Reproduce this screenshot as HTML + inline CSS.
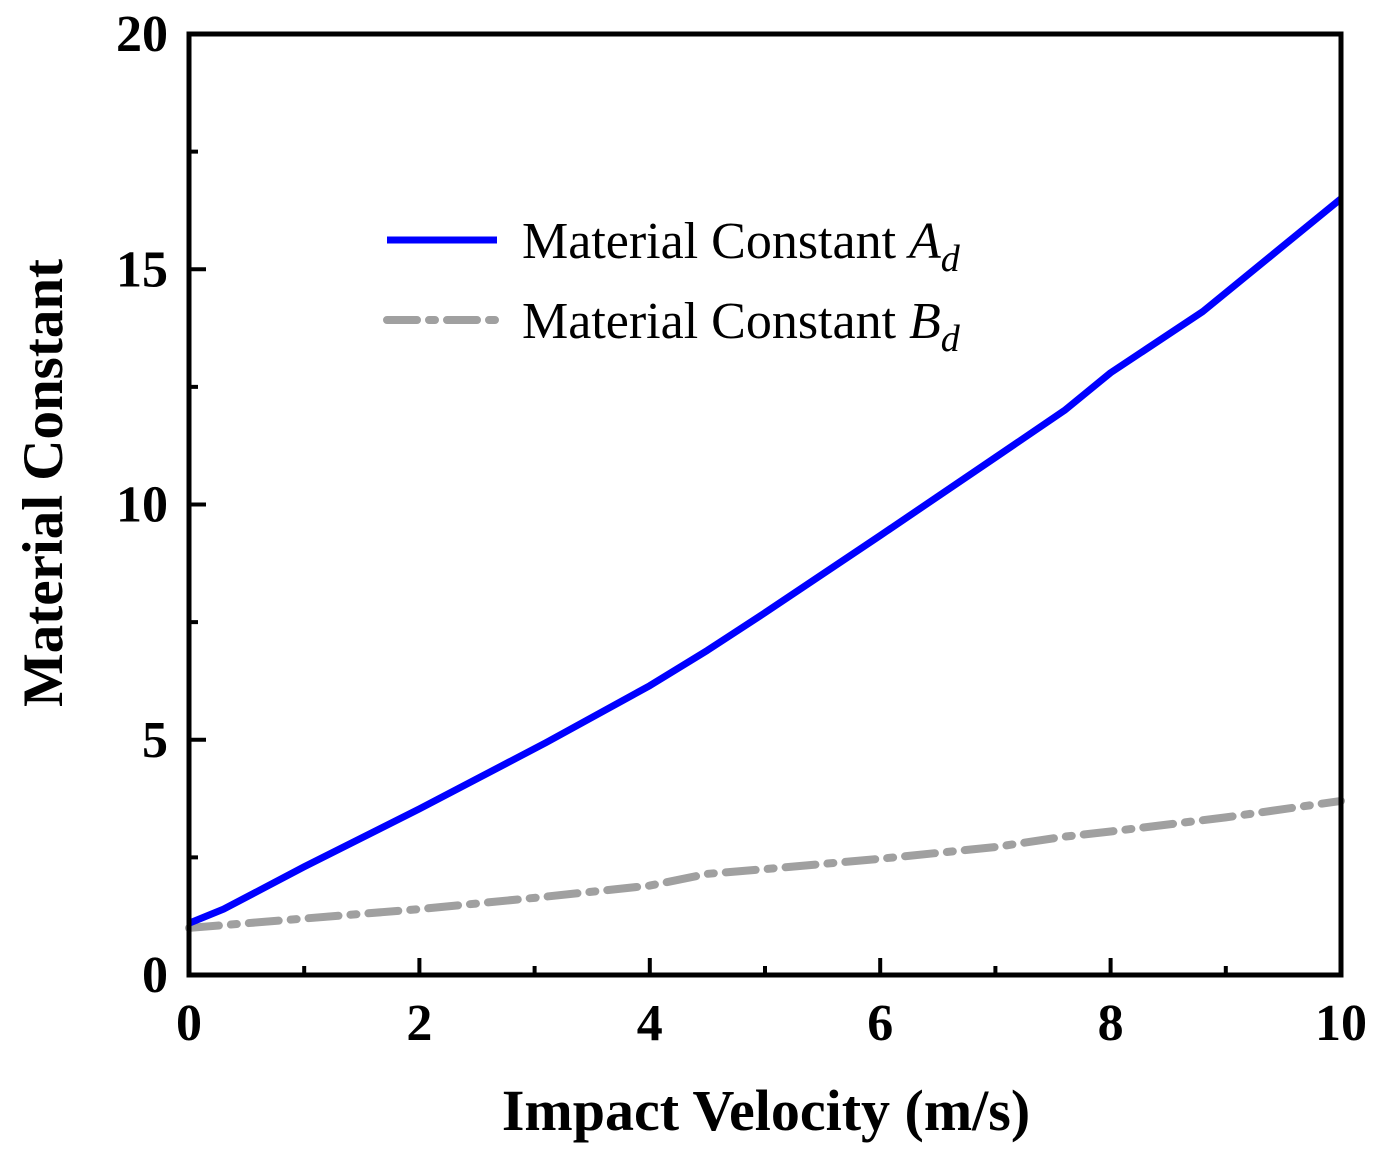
<!DOCTYPE html>
<html><head><meta charset="utf-8"><style>
body{margin:0;background:#fff}
svg text{font-family:"Liberation Serif",serif}
</style></head><body>
<svg width="1388" height="1164" id="c">
<rect width="1388" height="1164" fill="#fff"/>
<g id="plot"></g>
<rect x="189" y="34" width="1152" height="941" fill="none" stroke="#000" stroke-width="5"/>
<g id="ticks"></g>
<text x="766" y="1130" font-size="58" font-weight="bold" text-anchor="middle">Impact Velocity (m/s)</text>
<text transform="translate(62,483) rotate(-90)" font-size="57" font-weight="bold" text-anchor="middle">Material Constant</text>
<g>
<line x1="387" y1="240" x2="497" y2="240" stroke="#0000ff" stroke-width="7"/>
<text x="522" y="258" font-size="52">Material Constant <tspan font-style="italic">A</tspan><tspan font-style="italic" font-size="38" dy="13">d</tspan></text>
<line x1="387" y1="320" x2="497" y2="320" stroke="#a0a0a0" stroke-width="8" stroke-dasharray="30 12 6 12" stroke-linecap="round"/>
<text x="522" y="338" font-size="52">Material Constant <tspan font-style="italic">B</tspan><tspan font-style="italic" font-size="38" dy="13">d</tspan></text>
</g>
</svg>
<script>
const velocities=[0,0.3,1,2,3.1,4,4.5,5,6,7,7.6,8,8.8,10];
const seriesA=[1.1,1.4,2.3,3.53,4.94,6.15,6.9,7.7,9.34,11.0,12.0,12.8,14.1,16.5];
const velocitiesB=[0,1,2,3,4,4.5,5,6,7,7.6,8,9,10];
const seriesB=[1.0,1.2,1.4,1.64,1.9,2.15,2.25,2.47,2.72,2.94,3.05,3.35,3.7];
const xTicks=[0,2,4,6,8,10];
const yTicks=[0,5,10,15,20];
const X=v=>189+v*115.2, Y=v=>975-v*47.05;
const NS='http://www.w3.org/2000/svg';
const plot=document.getElementById('plot'), tk=document.getElementById('ticks');
function mk(tag,attrs,parent){const e=document.createElementNS(NS,tag);for(const k in attrs)e.setAttribute(k,attrs[k]);parent.appendChild(e);return e;}
const pb=mk('polyline',{points:velocitiesB.map((v,i)=>X(v)+','+Y(seriesB[i])).join(' '),fill:'none',stroke:'#a0a0a0','stroke-width':8,'stroke-dasharray':'30 12 6 12','stroke-linecap':'round','stroke-linejoin':'round'},plot);


const pa=mk('polyline',{points:velocities.map((v,i)=>X(v)+','+Y(seriesA[i])).join(' '),fill:'none',stroke:'#0000ff','stroke-width':7,'stroke-linejoin':'round'},plot);


for(let v=0;v<=10;v++){const major=v%2===0;const l=mk('line',{x1:X(v),x2:X(v),y1:975,y2:975-(major?17:9),stroke:'#000','stroke-width':4},tk);

}
xTicks.forEach(v=>{const t=mk('text',{x:X(v),y:1040,'font-size':52,'font-weight':'bold','text-anchor':'middle'},tk);t.textContent=v;

});
for(let v=0;v<=20;v+=2.5){const major=v%5===0;const l=mk('line',{x1:189,x2:189+(major?17:9),y1:Y(v),y2:Y(v),stroke:'#000','stroke-width':4},tk);

}
yTicks.forEach(v=>{const t=mk('text',{x:168,y:Y(v)+17,'font-size':52,'font-weight':'bold','text-anchor':'end'},tk);t.textContent=v;

});
</script>
</body></html>
